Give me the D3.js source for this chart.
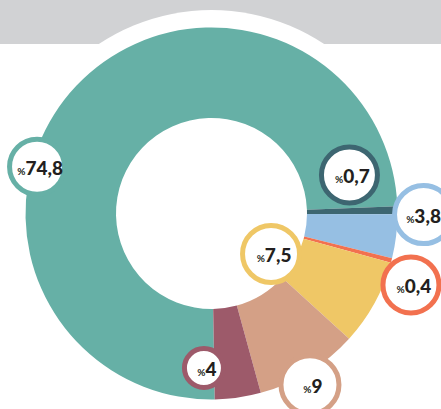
<!DOCTYPE html>
<html>
<head>
<meta charset="utf-8">
<script src="https://cdn.jsdelivr.net/npm/d3@7"></script>
<style>
  html, body { margin: 0; padding: 0; background: #fff; }
  svg { display: block; }
</style>
</head>
<body>
<svg id="chart" width="441" height="409"></svg>
<script>
// slice values, clockwise from the big teal one
const labels = ["74,8", "0,7", "3,8", "0,4", "7,5", "9", "4"];
const values = [74.8, 0.7, 3.8, 0.4, 7.5, 9, 4];
const colors = ["#66b0a6", "#3d6671", "#96bfe3", "#f2714f", "#efc766", "#d4a086", "#9d5a6a"];

// where each bubble sits: angle (deg, clockwise from top) and distance as share of outer radius
const bubbleAngle = [285, 74.4, 90.3, 109.7, 124.2, 150.1, 182.8];
const bubbleDist = [0.971, 0.770, 1.14, 1.139, 0.387, 1.062, 0.832];
const bubbleR = [27.5, 28, 29, 28, 28.5, 29, 19.5];

const W = 441, H = 409;
const cx = 211.5, cy = 213.5;
const outerR = 186, innerR = 95.5;
const start = 179 * Math.PI / 180;

const svg = d3.select("#chart");

// grey band across the top
svg.append("rect")
  .attr("x", 0).attr("y", 0)
  .attr("width", W).attr("height", 44)
  .attr("fill", "#d1d2d4");

const g = svg.append("g").attr("transform", `translate(${cx},${cy})`);

// white halo behind the donut
g.append("circle").attr("r", 203.5).attr("fill", "#fff");

const pie = d3.pie().sort(null).value(d => d)
  .startAngle(start).endAngle(start + 2 * Math.PI);
const arc = d3.arc().innerRadius(innerR).outerRadius(outerR);

g.selectAll("path.slice")
  .data(pie(values))
  .join("path")
  .attr("class", "slice")
  .attr("d", arc)
  .attr("fill", (d, i) => colors[i]);

// label bubbles
const angle = d3.scaleLinear().domain([0, 360]).range([0, 2 * Math.PI]);
const dist = d3.scaleLinear().domain([0, 1]).range([0, outerR]);

const bubbles = g.selectAll("g.bubble")
  .data(labels)
  .join("g")
  .attr("class", "bubble")
  .attr("transform", (d, i) => {
    const p = d3.pointRadial(angle(bubbleAngle[i]), dist(bubbleDist[i]));
    return `translate(${p[0]},${p[1]})`;
  });

bubbles.append("circle")
  .attr("r", (d, i) => bubbleR[i])
  .attr("fill", "#fff")
  .attr("stroke", (d, i) => colors[i])
  .attr("stroke-width", 5);

const t = bubbles.append("text")
  .attr("x", (d, i) => i === 2 ? 0 : 3)
  .attr("y", 8)
  .attr("text-anchor", "middle")
  .attr("fill", "#231f20")
  .style("font-family", "Lato, 'Open Sans', sans-serif")
  .style("font-weight", 900);

t.append("tspan")
  .attr("font-size", 10)
  .attr("font-weight", 700)
  .text("%");
t.append("tspan")
  .attr("font-size", 19)
  .text(d => d);
</script>
</body>
</html>
